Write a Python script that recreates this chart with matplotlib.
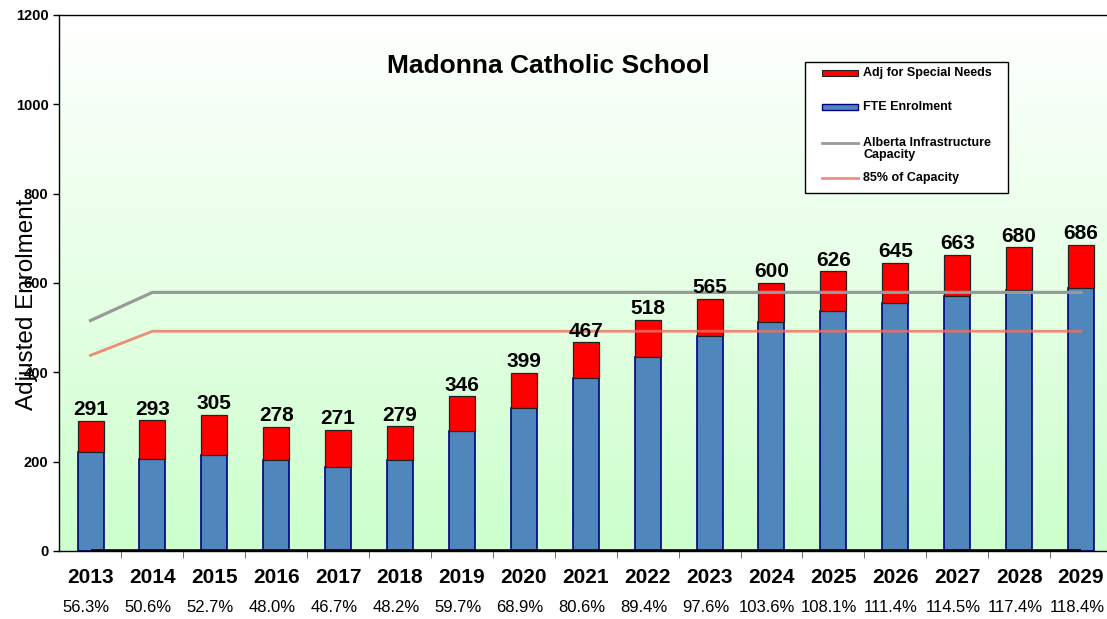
import numpy as np
import matplotlib.pyplot as plt
from matplotlib.patches import Rectangle
from matplotlib.lines import Line2D
from matplotlib.colors import LinearSegmentedColormap
import matplotlib.transforms as mtransforms

plt.rcParams['font.family'] = ['Liberation Sans', 'DejaVu Sans']

# data
years = ['2013', '2014', '2015', '2016', '2017', '2018', '2019', '2020', '2021',
         '2022', '2023', '2024', '2025', '2026', '2027', '2028', '2029']
total = [291, 293, 305, 278, 271, 279, 346, 399, 467, 518, 565, 600, 626, 645, 663, 680, 686]
fte = [221, 206, 215, 204, 189, 204, 269, 320, 387, 434, 481, 513, 537, 555, 571, 584, 589]
capacity = [516, 579, 579, 579, 579, 579, 579, 579, 579, 579, 579, 579, 579, 579, 579, 579, 579]
cap85 = [438, 492, 492, 492, 492, 492, 492, 492, 492, 492, 492, 492, 492, 492, 492, 492, 492]
baseline = [0, 0, 0, 0, 0, 0, 0, 0, 0, 0, 0, 0, 0, 0, 0, 0, 0]
pct_labels = ['56.3%', '50.6%', '52.7%', '48.0%', '46.7%', '48.2%', '59.7%', '68.9%', '80.6%',
              '89.4%', '97.6%', '103.6%', '108.1%', '111.4%', '114.5%', '117.4%', '118.4%']

W, H = 1107, 619
fig = plt.figure(figsize=(W / 100, H / 100), dpi=100)
ax = fig.add_axes([59 / W, 68 / H, (W - 59) / W, (551 - 15) / H])

x = np.arange(len(years))
adj = np.array(total) - np.array(fte)

# background gradient
cmap = LinearSegmentedColormap.from_list('bg', ['#ffffff', '#ccffcc'])
grad = np.linspace(0, 1, 256).reshape(-1, 1)
ax.imshow(grad, extent=[0, 1, 0, 1], transform=ax.transAxes, aspect='auto',
          cmap=cmap, zorder=0)

bw = 0.42
ax.bar(x, fte, width=bw, color='#4f86bb', edgecolor='#000080', linewidth=1.2, zorder=2)
ax.bar(x, adj, bottom=fte, width=bw, color='#ff0000', edgecolor='#222222', linewidth=0.9, zorder=2)
ax.plot(x, capacity, color='#999999', lw=2.3, zorder=3)
ax.plot(x, cap85, color='#f0705f', lw=2.0, alpha=0.8, zorder=3)
ax.plot(x, baseline, color='black', lw=2.6, zorder=3, solid_capstyle='butt')

for i, t in enumerate(total):
    ax.annotate(str(t), (x[i], t), xytext=(0, 4), textcoords='offset points',
                ha='center', va='baseline', fontsize=15, fontweight='bold', zorder=5)

ax.set_xlim(-0.509, 16.42)
ax.set_ylim(0, 1200)
ax.set_yticks(range(0, 1201, 200))
ax.tick_params(axis='y', length=4.5, width=1, labelsize=10.5, pad=3)
for lab in ax.get_yticklabels():
    lab.set_fontweight('bold')

ax.set_xticks(x)
ax.set_xticklabels(years, fontsize=15, fontweight='bold')
ax.tick_params(axis='x', length=0, pad=12)
ax.set_xticks(x[:-1] + 0.5, minor=True)
ax.tick_params(axis='x', which='minor', length=5, color='#555555')

trans = mtransforms.blended_transform_factory(ax.transData, ax.transAxes)
for i, p in enumerate(pct_labels):
    ax.annotate(p, (x[i], 0), xycoords=trans, xytext=(-3, -40.5), textcoords='offset points',
                ha='center', va='center', fontsize=12)

ax.spines['right'].set_visible(False)
ax.spines['left'].set_linewidth(1)
ax.spines['bottom'].set_linewidth(1)
ax.spines['top'].set_linewidth(1)

fig.text(27 / W, 1 - 304 / H, 'Adjusted Enrolment', rotation=90, ha='center', va='center',
         fontsize=17.5, zorder=10)
fig.text(548 / W, 1 - 66 / H, 'Madonna Catholic School', ha='center', va='center',
         fontsize=19, fontweight='bold')

# legend box
def fx(px):
    return px / W

def fy(py):
    return 1 - py / H

fig.patches.append(Rectangle((fx(805), fy(193)), fx(1008) - fx(805), fy(62) - fy(193),
                             transform=fig.transFigure, facecolor='white', edgecolor='black',
                             lw=1, zorder=5))
fig.patches.append(Rectangle((fx(822), fy(76)), fx(858) - fx(822), fy(70) - fy(76),
                             transform=fig.transFigure, facecolor='#ff0000', edgecolor='#222222',
                             lw=0.8, zorder=6))
fig.patches.append(Rectangle((fx(822), fy(110)), fx(858) - fx(822), fy(104) - fy(110),
                             transform=fig.transFigure, facecolor='#4f86bb', edgecolor='#000080',
                             lw=1, zorder=6))
fig.lines.append(Line2D([fx(822), fx(858)], [fy(143), fy(143)], transform=fig.transFigure,
                        color='#999999', lw=2, zorder=6))
fig.lines.append(Line2D([fx(822), fx(858)], [fy(178), fy(178)], transform=fig.transFigure,
                        color='#f0705f', alpha=0.8, lw=2, zorder=6))
leg_kw = dict(ha='left', va='center', fontsize=9, fontweight='bold', zorder=7)
fig.text(fx(863), fy(73), 'Adj for Special Needs', **leg_kw)
fig.text(fx(863), fy(107), 'FTE Enrolment', **leg_kw)
fig.text(fx(863), fy(149), 'Alberta Infrastructure\nCapacity', linespacing=1.0, **leg_kw)
fig.text(fx(863), fy(178), '85% of Capacity', **leg_kw)

fig.savefig('out.png', dpi=100)
